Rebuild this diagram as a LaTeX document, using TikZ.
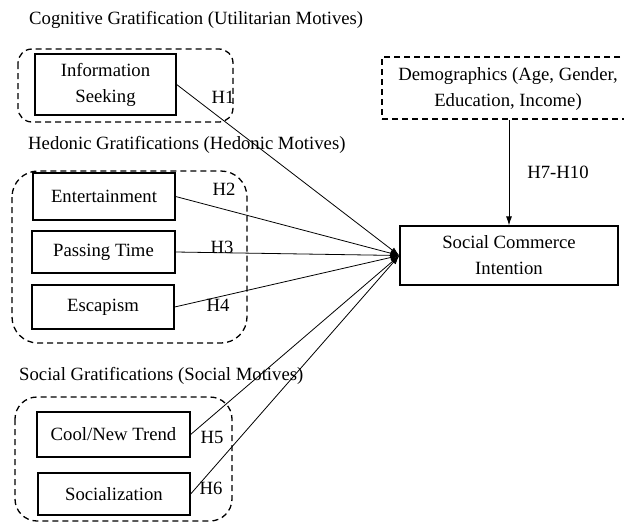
\documentclass[tikz,border=0pt]{standalone}
\usepackage{fontspec}
\setmainfont{Liberation Serif}
\usetikzlibrary{arrows.meta}
\begin{document}
\begin{tikzpicture}[x=1pt,y=-1pt,
  every node/.style={font=\fontsize{18.7}{26}\selectfont},
  box/.style={draw, line width=1.3pt, align=center, inner sep=0pt},
  grp/.style={draw, line width=1.3pt, dash pattern=on 6pt off 4pt},
  conn/.style={line width=0.8pt, -{Latex[length=9pt,width=6pt]}},
  lbl/.style={inner sep=0pt}]
\useasboundingbox (0,0) rectangle (624,523);
% group frames
\draw[grp, rounded corners=14pt] (18,49) rectangle (233,122);
\draw[grp, rounded corners=26pt] (12,171) rectangle (247,343);
\draw[grp, rounded corners=22pt] (15,397) rectangle (232,521);
% titles
\node[lbl, anchor=west] (t1) at (29,20) {Cognitive Gratification (Utilitarian Motives)};
\node[lbl, anchor=west] (t2) at (28,145) {Hedonic Gratifications (Hedonic Motives)};
\node[lbl, anchor=west] (t3) at (19,376) {Social Gratifications (Social Motives)};
% boxes
\node[box, minimum width=141pt, minimum height=61pt] (info) at (105.5,84.5) {Information\\Seeking};
\node[box, minimum width=142pt, minimum height=47pt] (ent) at (104,196.5) {Entertainment};
\node[box, minimum width=143pt, minimum height=42pt] (pass) at (103.5,252) {Passing Time};
\node[box, minimum width=142pt, minimum height=44pt] (esc) at (103,307) {Escapism};
\node[box, minimum width=153pt, minimum height=45pt] (cool) at (113.5,434.5) {Cool/New Trend};
\node[box, minimum width=152pt, minimum height=42pt] (soc) at (114,494) {Socialization};
\node[box, minimum width=218pt, minimum height=59pt] (sci) at (509,255.5) {Social Commerce\\Intention};
\node[grp, minimum width=258pt, minimum height=62pt, inner sep=0pt] (demo) at (511,88) {};
\node[lbl, align=center] (demotext) at (508,89) {Demographics (Age, Gender,\\Education, Income)};
% connectors
\draw[conn] (info.east) -- (sci.west);
\draw[conn] (ent.east) -- (sci.west);
\draw[conn] (pass.east) -- (sci.west);
\draw[conn] (esc.east) -- (sci.west);
\draw[conn] (cool.east) -- (sci.west);
\draw[conn] (soc.east) -- (sci.west);
\draw[conn] (demo.south -| sci.north) -- (sci.north);
% hypothesis labels
\node[lbl] (h1) at (223,97) {H1};
\node[lbl] (h2) at (224,189) {H2};
\node[lbl] (h3) at (222,247.5) {H3};
\node[lbl] (h4) at (218,305) {H4};
\node[lbl] (h5) at (212,437) {H5};
\node[lbl] (h6) at (211,488) {H6};
\node[lbl] (h7) at (558,172) {H7-H10};
\end{tikzpicture}
\end{document}
